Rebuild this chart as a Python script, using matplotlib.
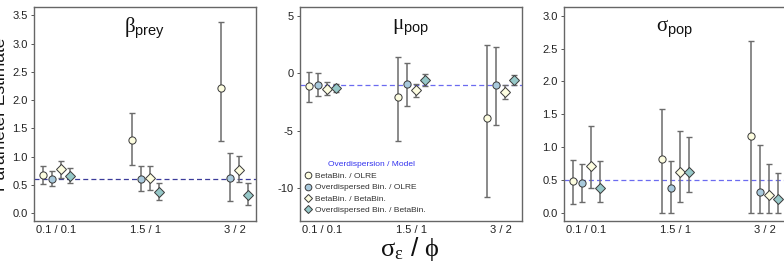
import numpy as np
import matplotlib
matplotlib.use('Agg')
import matplotlib.pyplot as plt
from matplotlib.lines import Line2D

plt.rcParams['font.family'] = ['Liberation Sans', 'DejaVu Sans']
plt.rcParams['mathtext.fontset'] = 'custom'
plt.rcParams['mathtext.rm'] = 'Liberation Serif'
plt.rcParams['mathtext.it'] = 'Liberation Serif:italic'
plt.rcParams['mathtext.sf'] = 'Liberation Sans'
plt.rcParams['axes.unicode_minus'] = False

# groups (sigma_eps / phi) and the four model combinations
groups = ['0.1 / 0.1', '1.5 / 1', '3 / 2']
series = ['BetaBin. / OLRE', 'Overdispersed Bin. / OLRE',
          'BetaBin. / BetaBin.', 'Overdispersed Bin. / BetaBin.']

# beta_prey: estimate, lower, upper (per series, per group)
beta_est = [[0.67, 1.29, 2.21], [0.61, 0.60, 0.63], [0.78, 0.62, 0.77], [0.66, 0.38, 0.32]]
beta_lo = [[0.52, 0.85, 1.28], [0.48, 0.39, 0.21], [0.63, 0.41, 0.55], [0.54, 0.23, 0.14]]
beta_hi = [[0.84, 1.78, 3.39], [0.74, 0.83, 1.07], [0.93, 0.83, 1.02], [0.80, 0.54, 0.53]]
beta_true = 0.6

# mu_pop
mu_est = [[-1.10, -2.11, -3.93], [-1.04, -0.92, -1.07], [-1.36, -1.47, -1.65], [-1.33, -0.58, -0.58]]
mu_lo = [[-2.49, -5.92, -10.75], [-2.02, -2.89, -4.54], [-1.88, -2.11, -2.23], [-1.65, -1.10, -1.04]]
mu_hi = [[0.09, 1.39, 2.46], [0.0, 0.92, 2.28], [-0.81, -0.90, -1.07], [-0.98, -0.06, -0.17]]
mu_true = -1.0

# sigma_pop
sig_est = [[0.49, 0.82, 1.18], [0.455, 0.39, 0.33], [0.71, 0.62, 0.28], [0.39, 0.62, 0.21]]
sig_lo = [[0.14, 0.0, 0.0], [0.17, 0.0, 0.0], [0.38, 0.17, 0.01], [0.17, 0.32, 0.01]]
sig_hi = [[0.81, 1.58, 2.62], [0.75, 0.80, 1.03], [1.33, 1.25, 0.75], [0.80, 1.15, 0.61]]
sig_true = 0.5

offsets = [-0.15, -0.05, 0.05, 0.15]
markers = ['o', 'o', 'D', 'D']
msizes = [5.2, 5.2, 4.6, 4.6]
fills = ['#fdfde0', '#a8c9dc', '#fdfde0', '#96c8c8']

W, H = 784, 264
fig = plt.figure(figsize=(W / 100, H / 100), dpi=100)


def add_panel(left, title, est, lo, hi, true, ylim, yticks, line_col):
    ax = fig.add_axes([left / W, 1 - 221 / H, 222 / W, 214 / H])
    x = np.arange(1, len(groups) + 1)
    ax.axhline(true, color=line_col, ls=(0, (4, 2.5)), lw=0.9, zorder=1)
    for i in range(len(series)):
        xs = x + offsets[i]
        e = np.array(est[i])
        yerr = [e - np.array(lo[i]), np.array(hi[i]) - e]
        ax.errorbar(xs, e, yerr=yerr, fmt='none', ecolor='#6b6b6b', elinewidth=1.1,
                    capsize=1.9, capthick=1.0, zorder=2)
        ax.plot(xs, e, ls='none', marker=markers[i], ms=msizes[i], mfc=fills[i],
                mec='#3a3a3a', mew=0.7, zorder=3)
    ax.set_xlim(0.75, 3.24)
    ax.set_ylim(*ylim)
    ax.set_yticks(yticks)
    ax.set_xticks(x + 0.0)
    ax.set_xticklabels(groups)
    ax.tick_params(axis='x', length=0, pad=3, labelsize=8, labelcolor='#222222')
    ax.tick_params(axis='y', length=2.5, width=0.7, color='#555555', pad=2,
                   labelsize=8, labelcolor='#222222')
    for s in ax.spines.values():
        s.set_color('#666666')
        s.set_linewidth(1.0)
    ax.text(0.5, 0.9, title, transform=ax.transAxes, ha='center', va='center',
            fontsize=15, color='#111111')
    return ax


ax1 = add_panel(34, r'$\mathrm{\beta}_{\mathsf{prey}}$', beta_est, beta_lo, beta_hi, beta_true,
                (-0.14, 3.65), [0, 0.5, 1, 1.5, 2, 2.5, 3, 3.5], '#3b3b9a')
ax1.set_yticklabels(['0.0', '0.5', '1.0', '1.5', '2.0', '2.5', '3.0', '3.5'])
ax2 = add_panel(300, r'$\mathrm{\mu}_{\mathsf{pop}}$', mu_est, mu_lo, mu_hi, mu_true,
                (-12.85, 5.75), [-10, -5, 0, 5], '#6b6bf0')
ax3 = add_panel(564, r'$\mathrm{\sigma}_{\mathsf{pop}}$', sig_est, sig_lo, sig_hi, sig_true,
                (-0.117, 3.13), [0, 0.5, 1, 1.5, 2, 2.5, 3], '#6b6bf0')
ax3.set_yticklabels(['0.0', '0.5', '1.0', '1.5', '2.0', '2.5', '3.0'])

handles = [Line2D([], [], ls='none', marker=markers[i], ms=msizes[i] - 0.4, mfc=fills[i],
                  mec='#3a3a3a', mew=0.7) for i in range(len(series))]
leg = ax2.legend(handles, series, loc='lower left',
                 bbox_to_anchor=(0.0, 0.005), frameon=False, fontsize=6,
                 handlelength=0.6, handletextpad=0.55,
                 labelspacing=0.42, borderpad=0.2)
for t in leg.get_texts():
    t.set_color('#333333')
fig.text(371 / W, 1 - 165 / H, 'Overdispersion / Model', ha='center', va='center',
         fontsize=6, color='#3333ee')

fig.text(8 / W, 1 - 114 / H, 'Parameter Estimate', rotation=90, ha='right', va='center',
         fontsize=12.5, color='#111111')
fig.text(410 / W, 1 - 249 / H, r'$\mathrm{\sigma}_{\mathrm{\varepsilon}}$ / $\mathrm{\phi}$',
         ha='center', va='center', fontsize=19, color='#111111')

fig.savefig('out.png', dpi=100)
